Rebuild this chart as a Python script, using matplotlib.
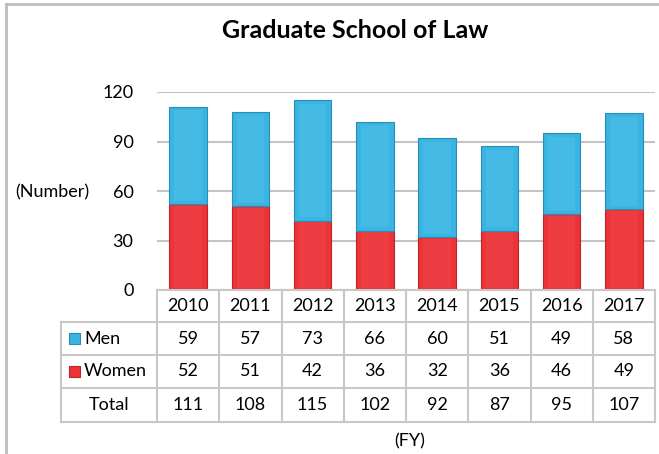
import matplotlib.pyplot as plt
from matplotlib.patches import Rectangle
from matplotlib.lines import Line2D

plt.rcParams['font.family'] = ['Lato', 'DejaVu Sans']

years = ['2010', '2011', '2012', '2013', '2014', '2015', '2016', '2017']
men = [59, 57, 73, 66, 60, 51, 49, 58]
women = [52, 51, 42, 36, 32, 36, 46, 49]
totals = [111, 108, 115, 102, 92, 87, 95, 107]
yticks = [0, 30, 60, 90, 120]

blue = '#3AB4E2'
blue_edge = '#2A8DB5'
blue_hi = '#5CC6EC'
red = '#EC3338'
red_edge = '#B8252A'
red_hi = '#F05055'
grid_c = '#C4C4C4'
fs = 13

W, H = 659, 454
fig = plt.figure(figsize=(W / 100, H / 100), dpi=100)

def fx(px):
    return px / W

def fy(py):
    return 1 - py / H

# outer chart border
fig.add_artist(Line2D([fx(6), fx(6)], [fy(4), 0], color='#BDBDBD', lw=2))
fig.add_artist(Line2D([fx(6), 1], [fy(4), fy(4)], color='#BDBDBD', lw=2))

# plot area
left, right, top, bottom = 157, 655, 92, 290
ax = fig.add_axes([fx(left), fy(bottom), fx(right - left), (bottom - top) / H])
x = list(range(len(years)))
ax.bar(x, women, width=0.6, color=red, edgecolor=red_edge, linewidth=0.8, zorder=3)
ax.bar(x, men, width=0.6, bottom=women, color=blue, edgecolor=blue_edge, linewidth=0.8, zorder=3)
# light inner face for a bevelled look
ax.bar(x, [w - 2 for w in women], width=0.44, bottom=1, color=red_hi, alpha=0.35, linewidth=0, zorder=4)
ax.bar(x, [m - 4 for m in men], width=0.44, bottom=[w + 2 for w in women], color=blue_hi,
       alpha=0.35, linewidth=0, zorder=4)
ax.set_xlim(-0.5, len(years) - 0.5)
ax.set_ylim(0, 120)
ax.set_yticks(yticks)
ax.set_yticklabels([str(t) for t in yticks], fontsize=fs)
ax.tick_params(axis='y', length=0, pad=17)
ax.set_xticks([])
ax.yaxis.grid(True, color=grid_c, lw=1.5, zorder=0)
for s in ax.spines.values():
    s.set_visible(False)

fig.text(fx(355), fy(30), 'Graduate School of Law', ha='center', va='center',
         fontsize=18, fontweight='bold')
fig.text(fx(52), fy(192), '(Number)', ha='center', va='center', fontsize=fs)
fig.text(fx(410), fy(441), '(FY)', ha='center', va='center', fontsize=fs)

# data table below the plot
lab_left = 61
col_w = (right - left) / len(years)
rows = [290, 322, 355, 388, 422]
tc = '#C8C8C8'
# horizontal lines
fig.add_artist(Line2D([fx(left), fx(right)], [fy(rows[0])] * 2, color=tc, lw=1.5))
for r in rows[1:]:
    fig.add_artist(Line2D([fx(lab_left), fx(right)], [fy(r)] * 2, color=tc, lw=1.5))
# vertical lines
fig.add_artist(Line2D([fx(lab_left)] * 2, [fy(rows[1]), fy(rows[-1])], color=tc, lw=1.5))
for i in range(len(years) + 1):
    xx = left + i * col_w
    fig.add_artist(Line2D([fx(xx)] * 2, [fy(rows[0]), fy(rows[-1])], color=tc, lw=1.5))

row_vals = [years, men, women, totals]
for ri, vals in enumerate(row_vals):
    yc = (rows[ri] + rows[ri + 1]) / 2
    for ci, v in enumerate(vals):
        fig.text(fx(left + (ci + 0.5) * col_w), fy(yc), str(v), ha='center', va='center', fontsize=fs)

labels = ['Men', 'Women']
cols = [(blue, blue_edge), (red, red_edge)]
for i, (lab, (fc, ec)) in enumerate(zip(labels, cols)):
    yc = (rows[i + 1] + rows[i + 2]) / 2
    fig.add_artist(Rectangle((fx(69), fy(yc + 5)), fx(11), 11 / H, facecolor=fc, edgecolor=ec, lw=0.8))
    fig.text(fx(84), fy(yc), lab, ha='left', va='center', fontsize=fs)
fig.text(fx(lab_left + 48), fy((rows[3] + rows[4]) / 2), 'Total', ha='center', va='center', fontsize=fs)

fig.savefig('out.png', dpi=100)
